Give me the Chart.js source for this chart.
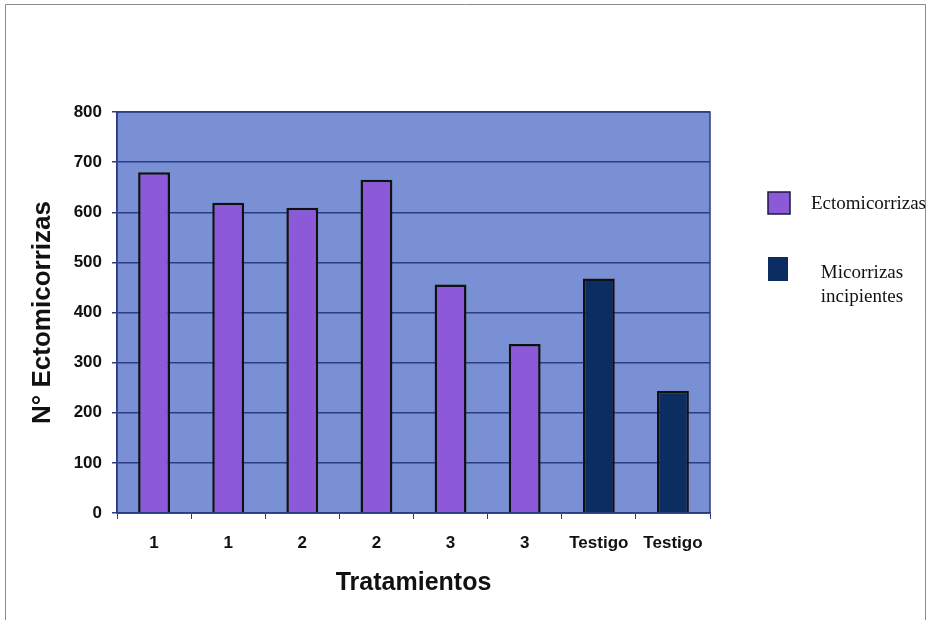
<!DOCTYPE html>
<html lang="es">
<head>
  <meta charset="UTF-8" />
  <title>Ectomicorrizas por tratamiento</title>
  <script src="https://cdn.jsdelivr.net/npm/chart.js"></script>
  <style>
    body { margin: 0; background: #fff; }
    #wrap { width: 927px; height: 620px; }
  </style>
</head>
<body>
  <div id="wrap">
    <canvas id="grafico" width="927" height="620"></canvas>
  </div>

  <script>
    // datos
    const tratamientos = ['1', '1', '2', '2', '3', '3', 'Testigo', 'Testigo'];
    const ectomicorrizas = [680, 619, 609, 665, 456, 337, null, null];
    const incipientes = [null, null, null, null, null, null, 468, 244];
    const yTicks = [0, 100, 200, 300, 400, 500, 600, 700, 800];

    const colorFondo = '#7a90d5';
    const colorMorado = '#8c5ad9';
    const colorAzul = '#0c2d62';
    const colorLinea = '#2c3d85';

    // fondo del área, marco y leyenda a mano
    const decoracion = {
      id: 'decoracion',
      beforeDraw(chart) {
        const { ctx, chartArea: a } = chart;
        ctx.save();
        ctx.fillStyle = colorFondo;
        ctx.fillRect(a.left, a.top, a.right - a.left, a.bottom - a.top);
        ctx.restore();
      },
      afterDraw(chart) {
        const { ctx, chartArea: a } = chart;
        ctx.save();
        // borde del área de trazado
        ctx.strokeStyle = colorLinea;
        ctx.lineWidth = 1.5;
        ctx.strokeRect(a.left, a.top, a.right - a.left, a.bottom - a.top);

        // marco exterior
        ctx.strokeStyle = '#8a8a8a';
        ctx.lineWidth = 1;
        ctx.beginPath();
        ctx.moveTo(5.5, 620);
        ctx.lineTo(5.5, 4.5);
        ctx.lineTo(925.5, 4.5);
        ctx.lineTo(925.5, 620);
        ctx.stroke();

        // leyenda
        const ds = chart.data.datasets;
        ctx.lineWidth = 1.5;
        ctx.strokeStyle = '#1a1a40';
        ctx.fillStyle = ds[0].backgroundColor;
        ctx.fillRect(768, 192, 22, 22);
        ctx.strokeRect(768, 192, 22, 22);
        ctx.fillStyle = ds[1].backgroundColor;
        ctx.fillRect(768, 257, 20, 24);

        ctx.fillStyle = '#111';
        ctx.font = '19px "Liberation Serif", "Times New Roman", serif';
        ctx.textBaseline = 'middle';
        ctx.textAlign = 'left';
        ctx.fillText(ds[0].label, 811, 204);
        ctx.textAlign = 'center';
        ctx.fillText('Micorrizas', 862, 273);
        ctx.fillText('incipientes', 862, 297);
        ctx.restore();
      }
    };

    const ctx = document.getElementById('grafico').getContext('2d');
    new Chart(ctx, {
      type: 'bar',
      data: {
        labels: tratamientos,
        datasets: [
          {
            label: 'Ectomicorrizas',
            data: ectomicorrizas,
            backgroundColor: colorMorado,
            borderColor: '#111',
            borderWidth: 2.5,
            grouped: false,
            categoryPercentage: 1,
            barPercentage: 0.43
          },
          {
            label: 'Micorrizas incipientes',
            data: incipientes,
            backgroundColor: colorAzul,
            borderColor: '#111',
            borderWidth: 2.5,
            grouped: false,
            categoryPercentage: 1,
            barPercentage: 0.43
          }
        ]
      },
      options: {
        responsive: false,
        animation: false,
        layout: { padding: { top: 112, right: 217, bottom: 0, left: 0 } },
        plugins: {
          legend: { display: false },
          tooltip: { enabled: false }
        },
        scales: {
          x: {
            offset: true,
            afterFit: s => { s.height = 107; },
            grid: {
              drawOnChartArea: false,
              drawTicks: true,
              tickLength: 6,
              tickColor: colorLinea,
              offset: true
            },
            border: { color: colorLinea, width: 1.5 },
            ticks: {
              color: '#111',
              padding: 14,
              font: { family: 'Liberation Sans, Arial, sans-serif', size: 17, weight: 'bold' }
            },
            title: {
              display: true,
              text: 'Tratamientos',
              color: '#111',
              padding: { top: 0, bottom: 22 },
              font: { family: 'Liberation Sans, Arial, sans-serif', size: 25, weight: 'bold' }
            }
          },
          y: {
            min: 0,
            max: 800,
            afterFit: s => { s.width = 117; },
            afterBuildTicks: s => { s.ticks = yTicks.map(v => ({ value: v })); },
            grid: {
              color: colorLinea,
              lineWidth: 1.5,
              tickLength: 5,
              tickColor: colorLinea
            },
            border: { color: colorLinea, width: 1.5 },
            ticks: {
              color: '#111',
              padding: 10,
              font: { family: 'Liberation Sans, Arial, sans-serif', size: 17, weight: 'bold' }
            },
            title: {
              display: true,
              text: 'N° Ectomicorrizas',
              color: '#111',
              padding: { top: 27, bottom: 0 },
              font: { family: 'Liberation Sans, Arial, sans-serif', size: 26, weight: 'bold' }
            }
          }
        }
      },
      plugins: [decoracion]
    });
  </script>
</body>
</html>
